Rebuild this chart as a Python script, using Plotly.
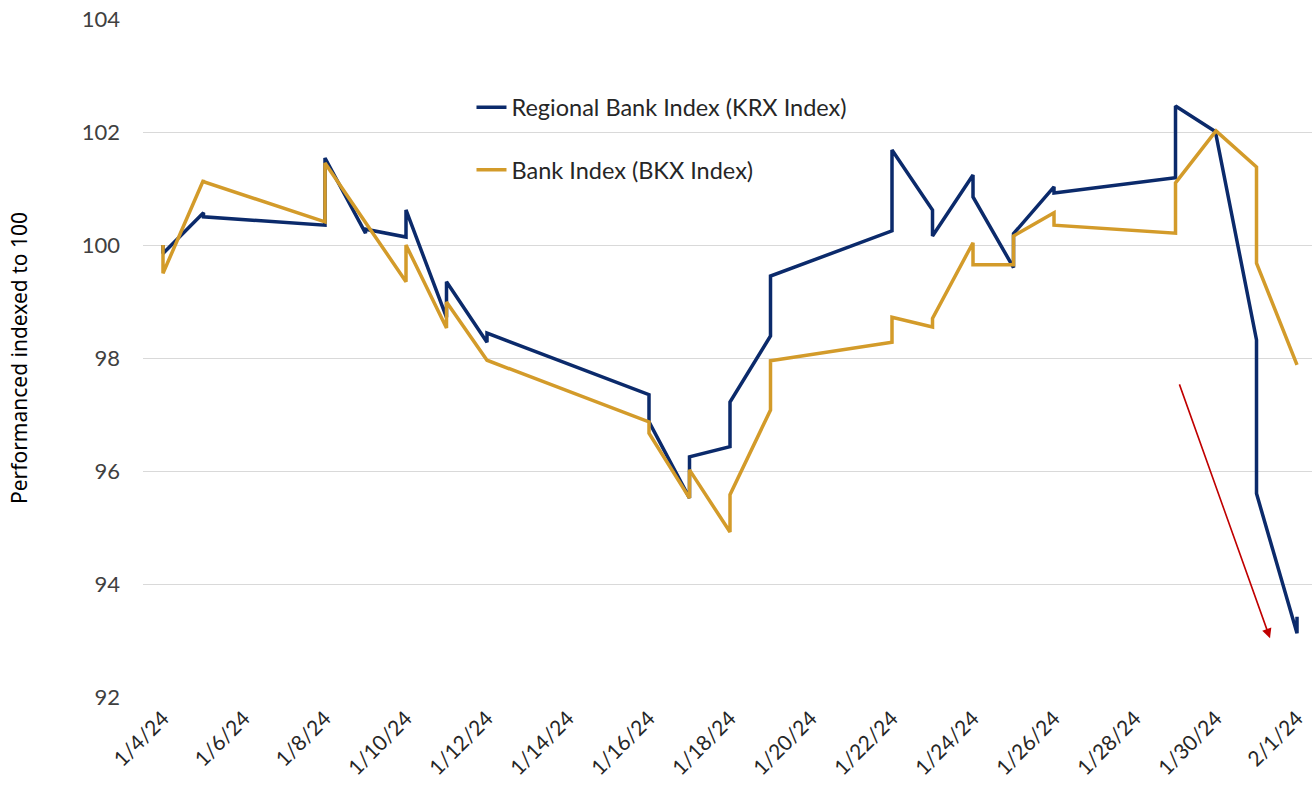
import plotly.graph_objects as go

# Trading days (each day has two readings: first and second)
days = ["2024-01-04", "2024-01-05", "2024-01-08", "2024-01-09", "2024-01-10",
        "2024-01-11", "2024-01-12", "2024-01-16", "2024-01-17", "2024-01-18",
        "2024-01-19", "2024-01-22", "2024-01-23", "2024-01-24", "2024-01-25",
        "2024-01-26", "2024-01-29", "2024-01-30", "2024-01-31", "2024-02-01"]

krx_first = [100.00, 100.57, 100.35, 100.21, 100.14, 98.72, 98.28, 97.35, 95.52, 96.43,
             98.39, 100.25, 100.62, 101.24, 99.60, 101.03, 101.19, 102.00, 98.32, 93.13]
krx_second = [99.85, 100.50, 101.54, 100.28, 100.62, 99.35, 98.44, 96.87, 96.25, 97.22,
              99.45, 101.68, 100.16, 100.85, 100.20, 100.92, 102.46, 101.95, 95.60, 93.42]

bkx_first = [100.00, 101.15, 100.41, 100.40, 99.35, 98.53, 97.96, 96.87, 95.52, 94.92,
             97.08, 98.28, 98.55, 100.04, 99.65, 100.57, 100.21, 102.02, 101.38, 97.88]
bkx_second = [99.50, 101.12, 101.45, 100.40, 100.00, 98.99, 97.96, 96.67, 96.02, 95.58,
              97.95, 98.72, 98.70, 99.65, 100.16, 100.35, 101.10, 102.02, 99.68, 97.88]

x_ticks_start = "2024-01-04"
y_ticks = [92, 94, 96, 98, 100, 102, 104]

# Red trend arrow (start -> end) in data units
arrow_start = ("2024-01-29 02:00", 97.56)
arrow_end = ("2024-01-31 08:00", 93.04)

x_all = [d for d in days for _ in range(2)]
krx_all = [v for pair in zip(krx_first, krx_second) for v in pair]
bkx_all = [v for pair in zip(bkx_first, bkx_second) for v in pair]

NAVY = "#0B2A6B"
GOLD = "#D39B2A"
FONT = "Lato, 'Open Sans', sans-serif"

fig = go.Figure()
fig.add_trace(go.Scatter(x=x_all, y=krx_all, mode="lines", name="Regional Bank Index (KRX Index)",
                         line=dict(color=NAVY, width=3.5), legendgroup="a"))
fig.add_trace(go.Scatter(x=x_all, y=bkx_all, mode="lines", name="Bank Index (BKX Index)",
                         line=dict(color=GOLD, width=3.5), legendgroup="b"))

fig.add_annotation(x=arrow_end[0], y=arrow_end[1], ax=arrow_start[0], ay=arrow_start[1],
                   xref="x", yref="y", axref="x", ayref="y", text="", showarrow=True,
                   arrowhead=2, arrowsize=1.2, arrowwidth=1.6, arrowcolor="#C00000")

fig.update_layout(
    width=1314, height=789,
    margin=dict(l=143, r=2, t=19, b=92),
    paper_bgcolor="white", plot_bgcolor="white",
    font=dict(family=FONT, color="#404040"),
    showlegend=True,
    legend=dict(x=0.281, y=0.902, xanchor="left", yanchor="top", bgcolor="rgba(0,0,0,0)",
                font=dict(size=23.5, color="#262626"), tracegroupgap=29, itemwidth=30),
    xaxis=dict(type="date", range=["2024-01-03 12:09", "2024-02-01 08:53"],
               tick0=x_ticks_start, dtick=2 * 86400000, tickformat="%-m/%-d/%y",
               tickangle=-45, tickfont=dict(size=21, color="#262626"),
               ticklabelstandoff=4, automargin=False,
               showgrid=False, showline=False, zeroline=False, ticks=""),
    yaxis=dict(range=[92, 104], tickvals=y_ticks, tickfont=dict(size=22, color="#404040"),
               gridcolor="#D9D9D9", gridwidth=1, zeroline=False, showline=False,
               ticks="", ticklabelstandoff=22, automargin=False,
               title=dict(text="Performanced indexed to 100", standoff=48,
                          font=dict(size=21, color="#000000",
                                    family="'Liberation Sans Narrow', 'Noto Sans', sans-serif"))),
)

fig.write_html("out.html")
